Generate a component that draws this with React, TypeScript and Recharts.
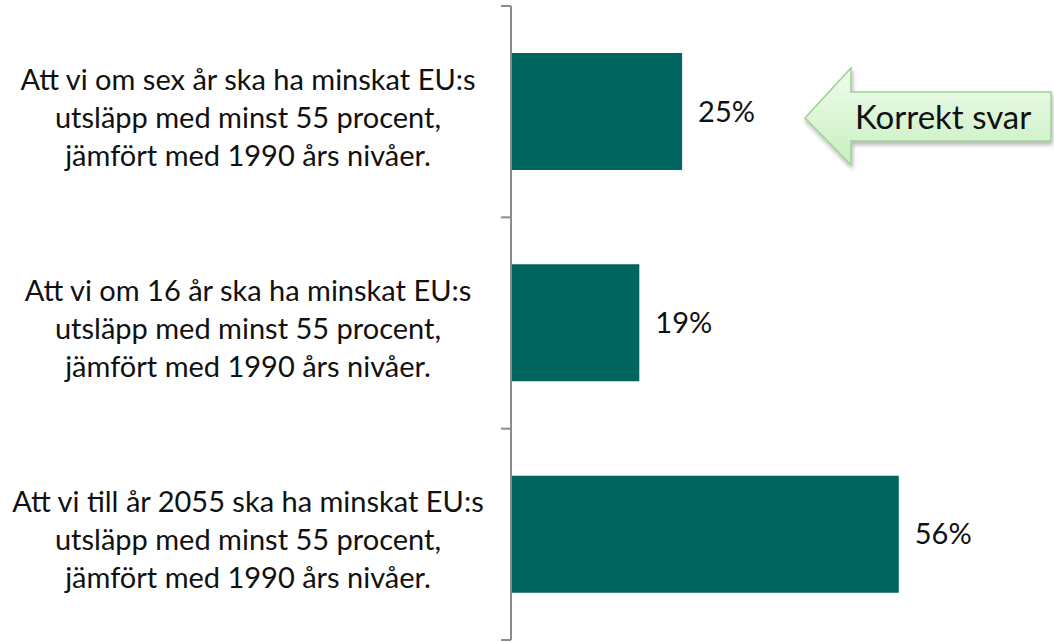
import React from 'react';
import { BarChart, Bar, XAxis, YAxis, LabelList } from 'recharts';

const categories: string[][] = [
  ['Att vi om sex år ska ha minskat EU:s', 'utsläpp med minst 55 procent,', 'jämfört med 1990 års nivåer.'],
  ['Att vi om 16 år ska ha minskat EU:s', 'utsläpp med minst 55 procent,', 'jämfört med 1990 års nivåer.'],
  ['Att vi till år 2055 ska ha minskat EU:s', 'utsläpp med minst 55 procent,', 'jämfört med 1990 års nivåer.'],
];
const keys = ['a', 'b', 'c'];
const values = [24.8, 18.6, 56.2];
const calloutText = 'Korrekt svar';

const data = keys.map((k, i) => ({ key: k, lines: categories[i], value: values[i] }));

const FONT = 'Lato, "Open Sans", sans-serif';
const BAR_COLOR = '#00655f';
const AXIS_COLOR = '#8c8c8c';
const LABEL_CENTER_X = 248;
const TICK_LEN = 10;

const CategoryTick = (props: any) => {
  const { y, payload, index, visibleTicksCount } = props;
  const row = data.find((d) => d.key === payload.value);
  const lines = row ? row.lines : [];
  const half = typeof payload.offset === 'number' ? payload.offset : 0;
  const axisX = 511;
  const isLast = index === (visibleTicksCount ?? data.length) - 1;
  return (
    <g>
      {half > 0 && (
        <line x1={axisX - TICK_LEN} x2={axisX} y1={y - half} y2={y - half} stroke={AXIS_COLOR} strokeWidth={2} />
      )}
      {half > 0 && isLast && (
        <line x1={axisX - TICK_LEN} x2={axisX} y1={y + half} y2={y + half} stroke={AXIS_COLOR} strokeWidth={2} />
      )}
      <text x={LABEL_CENTER_X} y={y} textAnchor="middle" fontFamily={FONT} fontSize={29} fill="#111">
        {lines.map((l, i) => (
          <tspan key={i} x={LABEL_CENTER_X} y={y + (i - 1) * 38 + 16}>
            {l}
          </tspan>
        ))}
      </text>
    </g>
  );
};

export default function App() {
  return (
    <div style={{ position: 'absolute', left: 0, top: 0, width: 1054, height: 642, background: '#fff' }}>
      <BarChart
        width={1054}
        height={642}
        data={data}
        layout="vertical"
        margin={{ top: 6, right: 129, bottom: 2, left: 0 }}
      >
        <YAxis
          yAxisId="cat"
          type="category"
          dataKey="key"
          width={511}
          axisLine={{ stroke: AXIS_COLOR, strokeWidth: 2 }}
          tickLine={false}
          tick={<CategoryTick />}
          interval={0}
        />
        <XAxis type="number" domain={[0, 60]} hide />
        <Bar yAxisId="cat" dataKey="value" fill={BAR_COLOR} barSize={117} isAnimationActive={false}>
          <LabelList
            dataKey="value"
            position="right"
            offset={16}
            formatter={(v: any) => `${Math.round(Number(v))}%`}
            style={{ fontFamily: FONT, fontSize: 29, fill: '#111' }}
          />
        </Bar>
      </BarChart>
      <svg
        width={1054}
        height={642}
        style={{ position: 'absolute', left: 0, top: 0, pointerEvents: 'none' }}
      >
        <defs>
          <linearGradient id="calloutFill" x1="0" y1="0" x2="0" y2="1">
            <stop offset="0%" stopColor="#effcec" />
            <stop offset="100%" stopColor="#c8efc0" />
          </linearGradient>
          <filter id="calloutShadow" x="-10%" y="-20%" width="130%" height="150%">
            <feDropShadow dx="1" dy="3" stdDeviation="2" floodColor="#000" floodOpacity="0.3" />
          </filter>
        </defs>
        <polygon
          points="805,118 851,68 851,92 1051,92 1051,141 851,141 851,165"
          fill="url(#calloutFill)"
          stroke="#9ad492"
          strokeWidth={1.5}
          filter="url(#calloutShadow)"
        />
        <text x={855} y={129} fontFamily={FONT} fontSize={33} fill="#111">
          {calloutText}
        </text>
      </svg>
    </div>
  );
}
